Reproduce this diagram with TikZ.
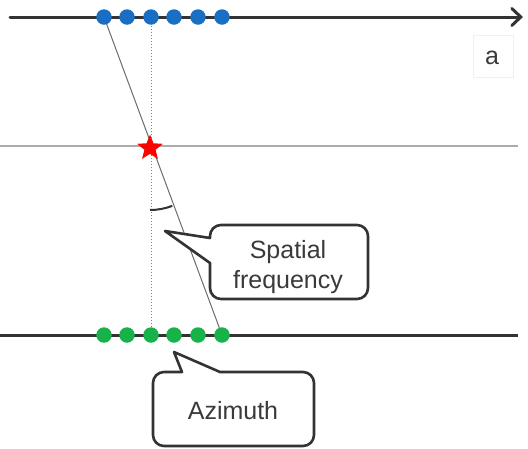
\documentclass[tikz,border=0pt]{standalone}
\usepackage{fontspec}
\setmainfont{Liberation Sans}
\usetikzlibrary{shapes.geometric,arrows.meta}
\definecolor{linedark}{HTML}{333333}
\definecolor{txtcol}{HTML}{3A3A3A}
\definecolor{dotblue}{HTML}{1A6EC4}
\definecolor{dotgreen}{HTML}{18B24B}
\tikzset{
  bluedot/.style={circle,fill=dotblue,minimum size=15.5pt,inner sep=0pt},
  greendot/.style={circle,fill=dotgreen,minimum size=15.5pt,inner sep=0pt},
  axisline/.style={linedark,line width=3pt},
  midline/.style={gray!65,line width=1.6pt},
  rayline/.style={gray!85!black,line width=1pt},
  dotline/.style={gray,line width=1pt,dotted},
  callout/.style={linedark,line width=2.6pt,fill=white,line join=round},
  lbl/.style={txtcol,font=\fontsize{25}{30}\selectfont,align=center,inner sep=0pt},
}
\begin{document}
\begin{tikzpicture}[x=1pt,y=-1pt]
\useasboundingbox (0,0) rectangle (528,448);
% lines
\coordinate (tl) at (10,17);
\coordinate (tr) at (523,17);
\coordinate (ml) at (0,146);
\coordinate (mr) at (518,146);
\coordinate (bl) at (0,335);
\coordinate (br) at (518,335);
\draw[midline] (ml) -- (mr);
\draw[axisline,line cap=round,-{Straight Barb[length=9pt,width=17pt,line cap=round]}] (tl) -- (tr);
\draw[axisline] (bl) -- (br);
% dot positions
\foreach \i/\x in {1/104,2/127,3/151,4/174,5/198,6/222}{
  \coordinate (pb\i) at (\x,17);
  \coordinate (pg\i) at (\x,335);
}
% ray and dotted vertical
\draw[dotline] (pb3) -- (pg3);
\draw[rayline] (pb1) -- (pg6);
% dots
\foreach \i in {1,...,6}{
  \node[bluedot] (b\i) at (pb\i) {};
  \node[greendot] (g\i) at (pg\i) {};
}
% star
\node[star,star points=5,star point ratio=2.3,fill=red,minimum size=27pt,inner sep=0pt] (st) at (150,148) {};
% angle arc
\draw[linedark,line width=2pt] (st.center) ++(90:62) arc[start angle=90,end angle=69,radius=62];
% label a
\node[draw=gray!12,line width=0.8pt,minimum width=40pt,minimum height=42pt] (abox) at (493,56) {};
\node[lbl] (a) at (492,58) {a};
% Spatial frequency callout
\draw[callout] (210,238) -- (165,231) -- (210,263) [rounded corners=11pt] -- (210,299) -- (368,299) -- (368,225) -- (210,225) [sharp corners] -- cycle;
\node[lbl] (sf) at (288,267) {Spatial\\frequency};
% Azimuth callout
\draw[callout] (182,372) -- (174,352) -- (220,372) [rounded corners=11pt] -- (314,372) -- (314,446) -- (153,446) -- (153,372) [sharp corners] -- cycle;
\node[lbl] (az) at (233,411) {Azimuth};
\end{tikzpicture}
\end{document}
